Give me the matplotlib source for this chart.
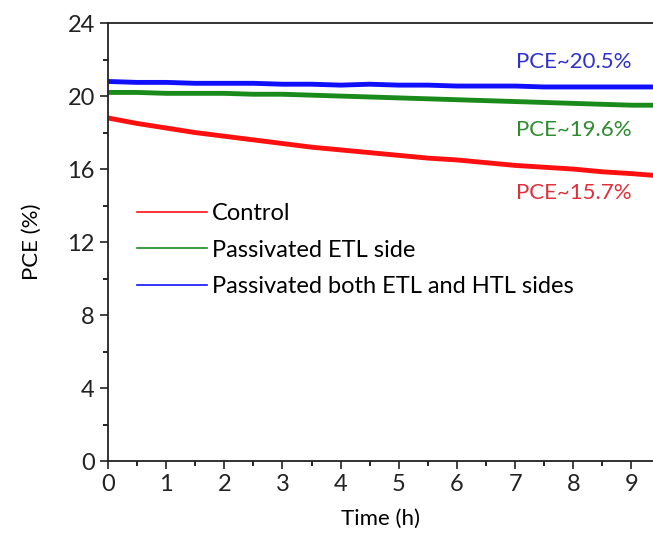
import numpy as np
import matplotlib.pyplot as plt
from matplotlib.ticker import MultipleLocator

# values, every half hour
time_h = [0, 0.5, 1, 1.5, 2, 2.5, 3, 3.5, 4, 4.5, 5, 5.5, 6, 6.5, 7, 7.5, 8, 8.5, 9, 9.4]
pce_control = [18.8, 18.5, 18.25, 18.0, 17.8, 17.6, 17.4, 17.2, 17.05, 16.9, 16.75,
               16.6, 16.5, 16.35, 16.2, 16.1, 16.0, 15.85, 15.75, 15.65]
pce_etl = [20.2, 20.2, 20.15, 20.15, 20.15, 20.1, 20.1, 20.05, 20.0, 19.95, 19.9,
           19.85, 19.8, 19.75, 19.7, 19.65, 19.6, 19.55, 19.5, 19.5]
pce_both = [20.8, 20.75, 20.75, 20.7, 20.7, 20.7, 20.65, 20.65, 20.6, 20.65, 20.6,
            20.6, 20.55, 20.55, 20.55, 20.5, 20.5, 20.5, 20.5, 20.5]
labels = ['Control', 'Passivated ETL side', 'Passivated both ETL and HTL sides']
final_text = ['PCE~15.7%', 'PCE~19.6%', 'PCE~20.5%']

plt.rcParams['font.family'] = ['Lato', 'DejaVu Sans']

fig = plt.figure(figsize=(6.53, 5.37), dpi=100)
ax = fig.add_axes([0.1654, 0.1415, 0.8346, 0.8155])

line_colors = ['#ff1010', '#1a8a1a', '#1010ff']
for y, c, lab in zip([pce_control, pce_etl, pce_both], line_colors, labels):
    ax.plot(time_h, y, color=c, lw=3.5, solid_capstyle='butt')
    ax.plot([], [], color=c, lw=1.2, label=lab)

text_colors = ['#e0303a', '#2e8b2e', '#3030d0']
text_y = [14.7, 18.15, 21.85]
for t, c, ty in zip(final_text, text_colors, text_y):
    ax.text(8.0, ty, t, color=c, fontsize=16, ha='center', va='center')

ax.set_xlim(0, 9.37)
ax.set_ylim(0, 24)
ax.xaxis.set_major_locator(MultipleLocator(1))
ax.xaxis.set_minor_locator(MultipleLocator(0.5))
ax.yaxis.set_major_locator(MultipleLocator(4))
ax.yaxis.set_minor_locator(MultipleLocator(2))
ax.tick_params(which='major', direction='out', length=6, width=1.2, labelsize=17, colors='#222222')
ax.tick_params(which='minor', direction='out', length=3.5, width=1.2)
ax.spines['right'].set_visible(False)
for s in ['left', 'bottom', 'top']:
    ax.spines[s].set_linewidth(1.3)
    ax.spines[s].set_color('#222222')

ax.set_xlabel('Time (h)', fontsize=16, labelpad=10)
ax.set_ylabel('PCE (%)', fontsize=16, labelpad=18)

ax.legend(loc='upper left', bbox_to_anchor=(0.035, 0.61), frameon=False, fontsize=17,
          handlelength=3.0, handletextpad=0.2, labelspacing=0.65, borderaxespad=0)

plt.savefig('out.png', dpi=100)
